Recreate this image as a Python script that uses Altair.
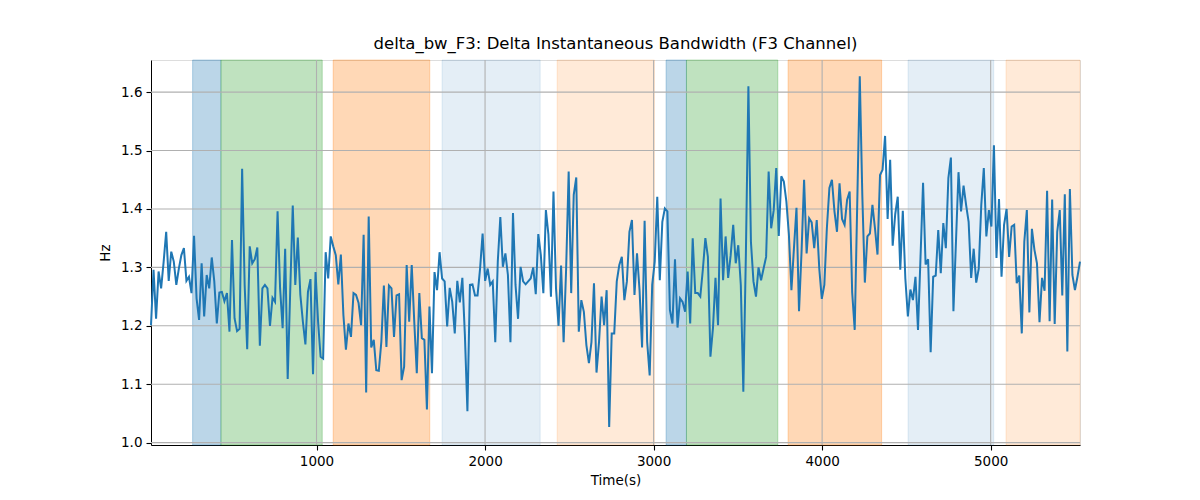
import altair as alt
import pandas as pd

# ---- data ----
T0 = 18.0
T1 = 5530.0

bw_values = [
    # 18 .. ~690
    1.201, 1.296, 1.212, 1.293, 1.264, 1.310, 1.361, 1.277, 1.327, 1.310, 1.270, 1.298, 1.321, 1.333, 1.277,
    1.284, 1.256, 1.354, 1.247, 1.210, 1.307, 1.216, 1.287, 1.264, 1.317, 1.276, 1.204, 1.257, 1.258, 1.242,
    1.256, 1.190, 1.347, 1.213, 1.191, 1.195, 1.469, 1.270, 1.160, 1.336, 1.307, 1.314, 1.334, 1.166, 1.264,
    # ~700 .. ~1380
    1.270, 1.264, 1.200, 1.248, 1.241, 1.396, 1.264, 1.196, 1.332, 1.109, 1.260, 1.406, 1.270, 1.351, 1.253,
    1.207, 1.168, 1.258, 1.280, 1.117, 1.292, 1.207, 1.147, 1.144, 1.326, 1.281, 1.353, 1.336, 1.321, 1.271,
    1.322, 1.219, 1.159, 1.204, 1.181, 1.256, 1.253, 1.239, 1.201, 1.356, 1.086, 1.387, 1.163, 1.176, 1.124,
    1.123,
    # ~1400 .. ~2070
    1.173, 1.269, 1.164, 1.269, 1.264, 1.181, 1.252, 1.254, 1.107, 1.130, 1.304, 1.207, 1.304, 1.207, 1.119,
    1.256, 1.179, 1.176, 1.057, 1.233, 1.119, 1.292, 1.261, 1.326, 1.281, 1.276, 1.199, 1.265, 1.241, 1.187,
    1.277, 1.240, 1.282, 1.184, 1.054, 1.270, 1.271, 1.252, 1.252, 1.298, 1.358, 1.277, 1.298, 1.270, 1.276,
    # ~2090 .. ~2760
    1.172, 1.310, 1.386, 1.301, 1.324, 1.287, 1.172, 1.393, 1.270, 1.212, 1.301, 1.276, 1.271, 1.276, 1.281,
    1.300, 1.254, 1.357, 1.321, 1.256, 1.398, 1.356, 1.250, 1.430, 1.264, 1.200, 1.303, 1.172, 1.298, 1.464,
    1.256, 1.424, 1.454, 1.190, 1.244, 1.224, 1.167, 1.136, 1.172, 1.273, 1.120, 1.173, 1.250, 1.201, 1.261,
    1.027,
    # ~2770 .. ~3440
    1.187, 1.187, 1.276, 1.304, 1.318, 1.244, 1.276, 1.361, 1.381, 1.253, 1.324, 1.261, 1.163, 1.380, 1.173,
    1.115, 1.270, 1.310, 1.421, 1.278, 1.378, 1.401, 1.396, 1.227, 1.204, 1.314, 1.197, 1.247, 1.241, 1.224,
    1.293, 1.204, 1.350, 1.256, 1.256, 1.250, 1.296, 1.350, 1.318, 1.147, 1.196, 1.282, 1.201, 1.418, 1.278,
    # ~3460 .. ~4130
    1.353, 1.282, 1.321, 1.373, 1.307, 1.338, 1.270, 1.087, 1.321, 1.610, 1.344, 1.276, 1.250, 1.300, 1.278,
    1.298, 1.318, 1.464, 1.367, 1.398, 1.470, 1.354, 1.456, 1.447, 1.413, 1.356, 1.261, 1.333, 1.402, 1.225,
    1.327, 1.450, 1.324, 1.384, 1.377, 1.333, 1.381, 1.298, 1.246, 1.270, 1.367, 1.436, 1.450, 1.396, 1.361,
    1.444,
    # ~4150 .. ~4820
    1.383, 1.373, 1.416, 1.430, 1.257, 1.193, 1.410, 1.627, 1.424, 1.274, 1.353, 1.358, 1.407, 1.367, 1.322,
    1.458, 1.467, 1.525, 1.383, 1.484, 1.337, 1.391, 1.421, 1.296, 1.397, 1.281, 1.216, 1.262, 1.244, 1.284,
    1.193, 1.318, 1.445, 1.305, 1.314, 1.155, 1.284, 1.286, 1.364, 1.290, 1.376, 1.333, 1.453, 1.488, 1.225,
    # ~4840 .. 5530
    1.344, 1.463, 1.396, 1.440, 1.407, 1.378, 1.282, 1.332, 1.274, 1.298, 1.407, 1.470, 1.353, 1.398, 1.370,
    1.509, 1.316, 1.417, 1.284, 1.373, 1.400, 1.318, 1.370, 1.373, 1.273, 1.286, 1.187, 1.344, 1.398, 1.223,
    1.366, 1.330, 1.307, 1.206, 1.282, 1.260, 1.431, 1.208, 1.416, 1.203, 1.361, 1.398, 1.252, 1.425, 1.156,
    1.434, 1.287, 1.261, 1.284, 1.310,
]

span_start = [265, 433, 1099, 1745, 2428, 3074, 3195, 3798, 4510, 5091]
span_end = [433, 1034, 1672, 2327, 3005, 3195, 3737, 4353, 5018, 5530]
span_color = ["#1f77b4", "#2ca02c", "#ff7f0e", "#1f77b4", "#ff7f0e",
              "#1f77b4", "#2ca02c", "#ff7f0e", "#1f77b4", "#ff7f0e"]
span_alpha = [0.3, 0.3, 0.3, 0.12, 0.16, 0.3, 0.3, 0.3, 0.12, 0.16]

x_ticks = [1000, 2000, 3000, 4000, 5000]
y_ticks = [1.0, 1.1, 1.2, 1.3, 1.4, 1.5, 1.6]
Y_MIN, Y_MAX = 0.996, 1.655

# ---- tables ----
n = len(bw_values)
dt = (T1 - T0) / (n - 1)
line_df = pd.DataFrame({"t": [T0 + i * dt for i in range(n)], "v": bw_values})
span_df = pd.DataFrame({"s": span_start, "e": span_end, "c": span_color, "a": span_alpha})
xg_df = pd.DataFrame({"x": x_ticks})
yg_df = pd.DataFrame({"y": y_ticks})

xscale = alt.Scale(domain=[T0, T1], nice=False, zero=False)
yscale = alt.Scale(domain=[Y_MIN, Y_MAX], nice=False, zero=False)

FONT = "DejaVu Sans"

spans = alt.Chart(span_df).mark_rect(strokeWidth=1).encode(
    x=alt.X("s:Q", scale=xscale),
    x2="e:Q",
    y=alt.datum(Y_MIN, type="quantitative", scale=yscale),
    y2=alt.datum(Y_MAX),
    fill=alt.Fill("c:N", scale=None),
    stroke=alt.Stroke("c:N", scale=None),
    fillOpacity=alt.FillOpacity("a:Q", scale=None),
    strokeOpacity=alt.StrokeOpacity("a:Q", scale=None),
)

xgrid = alt.Chart(xg_df).mark_rule(color="#b0b0b0", strokeWidth=1.1).encode(
    x=alt.X("x:Q", scale=xscale)
)
ygrid = alt.Chart(yg_df).mark_rule(color="#b0b0b0", strokeWidth=1.1).encode(
    y=alt.Y("y:Q", scale=yscale)
)

line = alt.Chart(line_df).mark_line(color="#1f77b4", strokeWidth=2).encode(
    x=alt.X("t:Q", scale=xscale,
            axis=alt.Axis(title="Time(s)", values=x_ticks, format="d", grid=False,
                          tickSize=5, tickWidth=1.1, tickColor="black", domainColor="black",
                          labelFontSize=13.5, titleFontSize=13.5, labelPadding=4,
                          titlePadding=6, labelColor="black", titleColor="black",
                          labelFont=FONT, titleFont=FONT, titleFontWeight="normal")),
    y=alt.Y("v:Q", scale=yscale,
            axis=alt.Axis(title="Hz", values=y_ticks, format=".1f", grid=False,
                          tickSize=5, tickWidth=1.1, tickColor="black", domainColor="black",
                          labelFontSize=13.5, titleFontSize=13.5, labelPadding=4,
                          titlePadding=8, labelColor="black", titleColor="black",
                          labelFont=FONT, titleFont=FONT, titleFontWeight="normal")),
)

chart = alt.layer(spans, xgrid, ygrid, line).properties(
    width=929,
    height=385,
    title=alt.TitleParams("delta_bw_F3: Delta Instantaneous Bandwidth (F3 Channel)",
                          font=FONT, fontSize=16.5, fontWeight="normal", color="black",
                          offset=7, anchor="middle"),
    autosize=alt.AutoSizeParams(type="none"),
    padding={"left": 143, "top": 52, "right": 100, "bottom": 45},
).configure_view(stroke="black", strokeWidth=1.1).configure(background="white")

chart.save("out.html", embed_options={"renderer": "svg", "actions": False})
